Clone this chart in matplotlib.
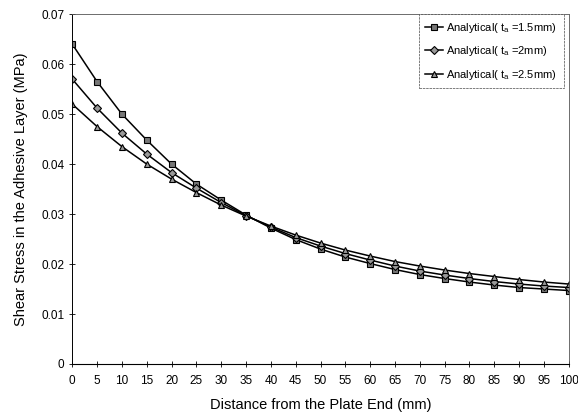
import numpy as np
import matplotlib
matplotlib.use("Agg")
import matplotlib.pyplot as plt

# distancia a partir da extremidade da placa (mm)
distance = [0, 5, 10, 15, 20, 25, 30, 35, 40, 45, 50, 55, 60, 65, 70, 75, 80, 85, 90, 95, 100]

# tensao de cisalhamento (MPa)
tau_15 = [0.0640, 0.0565, 0.0500, 0.0448, 0.0400, 0.0360, 0.0328, 0.0298, 0.0272, 0.0249, 0.0230,
          0.0214, 0.0201, 0.0189, 0.0179, 0.0171, 0.0164, 0.0158, 0.0153, 0.0150, 0.0147]
tau_20 = [0.0570, 0.0512, 0.0462, 0.0420, 0.0383, 0.0352, 0.0323, 0.0297, 0.0274, 0.0253, 0.0236,
          0.0221, 0.0208, 0.0196, 0.0186, 0.0178, 0.0171, 0.0165, 0.0160, 0.0156, 0.0153]
tau_25 = [0.0520, 0.0475, 0.0435, 0.0400, 0.0370, 0.0343, 0.0318, 0.0296, 0.0276, 0.0258, 0.0242,
          0.0228, 0.0216, 0.0205, 0.0196, 0.0188, 0.0181, 0.0175, 0.0169, 0.0164, 0.0160]

labels = ["Analytical( $t_a$ =1.5mm)", "Analytical( $t_a$ =2mm)", "Analytical( $t_a$ =2.5mm)"]
x_ticks = list(range(0, 101, 5))
y_ticks = [0, 0.01, 0.02, 0.03, 0.04, 0.05, 0.06, 0.07]
y_labels = ["0", "0.01", "0.02", "0.03", "0.04", "0.05", "0.06", "0.07"]

plt.rcParams["font.family"] = ["Liberation Sans", "DejaVu Sans"]
plt.rcParams["mathtext.fontset"] = "custom"
plt.rcParams["mathtext.rm"] = "Liberation Sans"
plt.rcParams["mathtext.it"] = "Liberation Sans"

fig = plt.figure(figsize=(5.78, 4.16), dpi=100)
ax = fig.add_axes([0.125, 0.125, 0.859, 0.841])

ax.plot(distance, tau_15, color="black", lw=1.1, marker="s", ms=5, mfc="#777777", mec="black", mew=0.8, label=labels[0])
ax.plot(distance, tau_20, color="black", lw=1.1, marker="D", ms=4, mfc="#999999", mec="black", mew=0.8, label=labels[1])
ax.plot(distance, tau_25, color="black", lw=1.1, marker="^", ms=5, mfc="#999999", mec="black", mew=0.8, label=labels[2])

ax.set_xlim(0, 100)
ax.set_ylim(0, 0.07)
ax.set_xticks(x_ticks)
ax.set_xticklabels([str(t) for t in x_ticks], fontsize=8.5)
ax.set_yticks(y_ticks)
ax.set_yticklabels(y_labels, fontsize=8.5)
ax.tick_params(direction="inout", length=4, width=0.6, color="black")
ax.tick_params(axis="x", pad=6)

for side in ["top", "right"]:
    ax.spines[side].set_linestyle((0, (2, 1)))
    ax.spines[side].set_linewidth(0.6)
    ax.spines[side].set_color("#555555")
ax.spines["left"].set_linestyle((0, (4, 1)))
ax.spines["left"].set_linewidth(0.7)
ax.spines["bottom"].set_linewidth(0.8)

ax.set_xlabel("Distance from the Plate End (mm)", fontsize=10.5, labelpad=8)
ax.set_ylabel("Shear Stress in the Adhesive Layer (MPa)", fontsize=10.5, labelpad=10)

leg = ax.legend(loc="upper right", fontsize=8, frameon=True, fancybox=False,
                edgecolor="#444444", handlelength=1.6, handletextpad=0.3,
                borderpad=0.6, labelspacing=0.85,
                bbox_to_anchor=(0.99, 1.0), borderaxespad=0.0)
leg.get_frame().set_linewidth(0.6)
leg.get_frame().set_linestyle((0, (3, 1)))

fig.savefig("out.png", dpi=100)
plt.close(fig)
